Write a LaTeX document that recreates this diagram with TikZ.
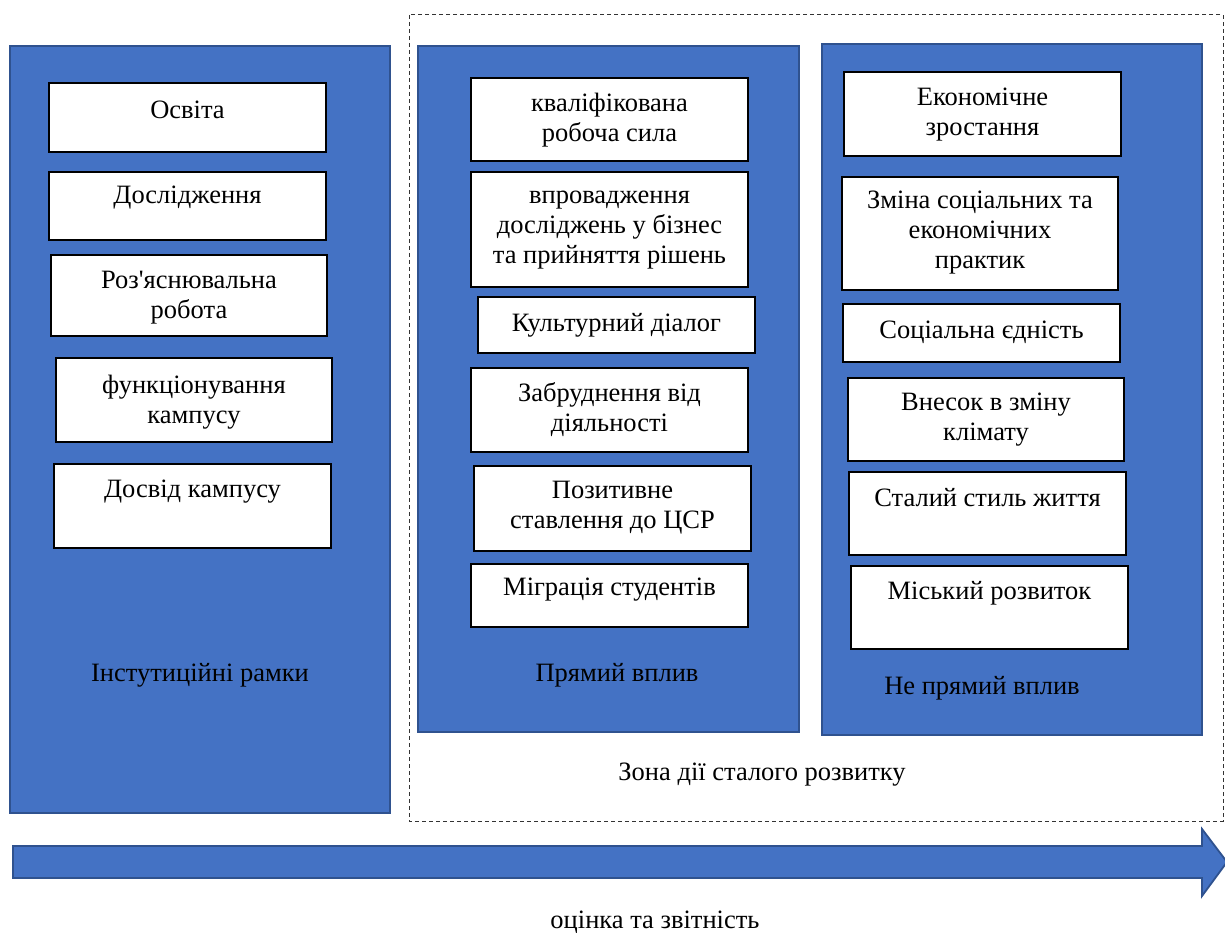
\documentclass[tikz,border=0pt]{standalone}
\usepackage{fontspec}
\setmainfont{Liberation Serif}
\newfontfamily\aposfont{Liberation Serif}[Ligatures=ResetAll]
\definecolor{panelblue}{HTML}{4472C4}
\definecolor{paneledge}{HTML}{2F528F}
\begin{document}
\begin{tikzpicture}[x=1pt,y=-1pt,
  panel/.style={draw=paneledge, fill=panelblue, line width=1.8pt},
  itembox/.style={draw=black, fill=white, line width=1.1pt},
  txt/.style={align=center, inner sep=0pt, font=\fontsize{26.5}{30}\selectfont, text=black},
  zone/.style={draw=black!80, line width=1pt, dash pattern=on 4pt off 3pt}]
\useasboundingbox (0,0) rectangle (1225,933);
% zone
\draw[zone] (409,15) rectangle (1223,821);
% panels
\draw[panel] (10,46) rectangle (390,813);
\draw[panel] (418,46) rectangle (799,732);
\draw[panel] (822,44) rectangle (1202,735);
% left boxes
\draw[itembox] (49,83) rectangle (326,152);
\node[txt] (l1) at (187.5,110) {Освіта};
\draw[itembox] (49,172) rectangle (326,240);
\node[txt] (l2) at (187.5,198) {Дослідження};
\draw[itembox] (51,255) rectangle (327,336);
\node[txt] (l3) at (189,298) {Роз{\aposfont\symbol{39}}яснювальна\\робота};
\draw[itembox] (56,358) rectangle (332,442);
\node[txt] (l4) at (194,402) {функціонування\\кампусу};
\draw[itembox] (54,464) rectangle (331,548);
\node[txt] (l5) at (192.5,492) {Досвід кампусу};
\node[txt] (lt) at (200,675) {Інстутиційні рамки};
% middle boxes
\draw[itembox] (471,78) rectangle (748,161);
\node[txt] (m1) at (609.5,120) {кваліфікована\\робоча сила};
\draw[itembox] (471,172) rectangle (748,287);
\node[txt] (m2) at (609.5,230) {впровадження\\досліджень у бізнес\\та прийняття рішень};
\draw[itembox] (478,297) rectangle (755,353);
\node[txt] (m3) at (616.5,325) {Культурний діалог};
\draw[itembox] (471,368) rectangle (748,452);
\node[txt] (m4) at (609.5,410) {Забруднення від\\діяльності};
\draw[itembox] (474,466) rectangle (751,551);
\node[txt] (m5) at (612.5,508) {Позитивне\\ставлення до ЦСР};
\draw[itembox] (471,564) rectangle (748,627);
\node[txt] (m6) at (609.5,590) {Міграція студентів};
\node[txt] (mt) at (617,675) {Прямий вплив};
% right boxes
\draw[itembox] (844,72) rectangle (1121,156);
\node[txt] (r1) at (982.5,115) {Економічне\\зростання};
\draw[itembox] (842,177) rectangle (1118,290);
\node[txt] (r2) at (980,233) {Зміна соціальних та\\економічних\\практик};
\draw[itembox] (843,304) rectangle (1120,362);
\node[txt] (r3) at (981.5,332) {Соціальна єдність};
\draw[itembox] (848,378) rectangle (1124,461);
\node[txt] (r4) at (986,420) {Внесок в зміну\\клімату};
\draw[itembox] (849,472) rectangle (1126,555);
\node[txt] (r5) at (987.5,498) {Сталий стиль життя};
\draw[itembox] (851,566) rectangle (1128,649);
\node[txt] (r6) at (989.5,593) {Міський розвиток};
\node[txt] (rt) at (982,688) {Не прямий вплив};
% zone label
\node[txt] (zt) at (762,775) {Зона дії сталого розвитку};
% arrow
\draw[panel] (13,846) -- (1202,846) -- (1202,829) -- (1227,862) -- (1202,896) -- (1202,878) -- (13,878) -- cycle;
\node[txt] (at) at (655,922) {оцінка та звітність};
\end{tikzpicture}
\end{document}
